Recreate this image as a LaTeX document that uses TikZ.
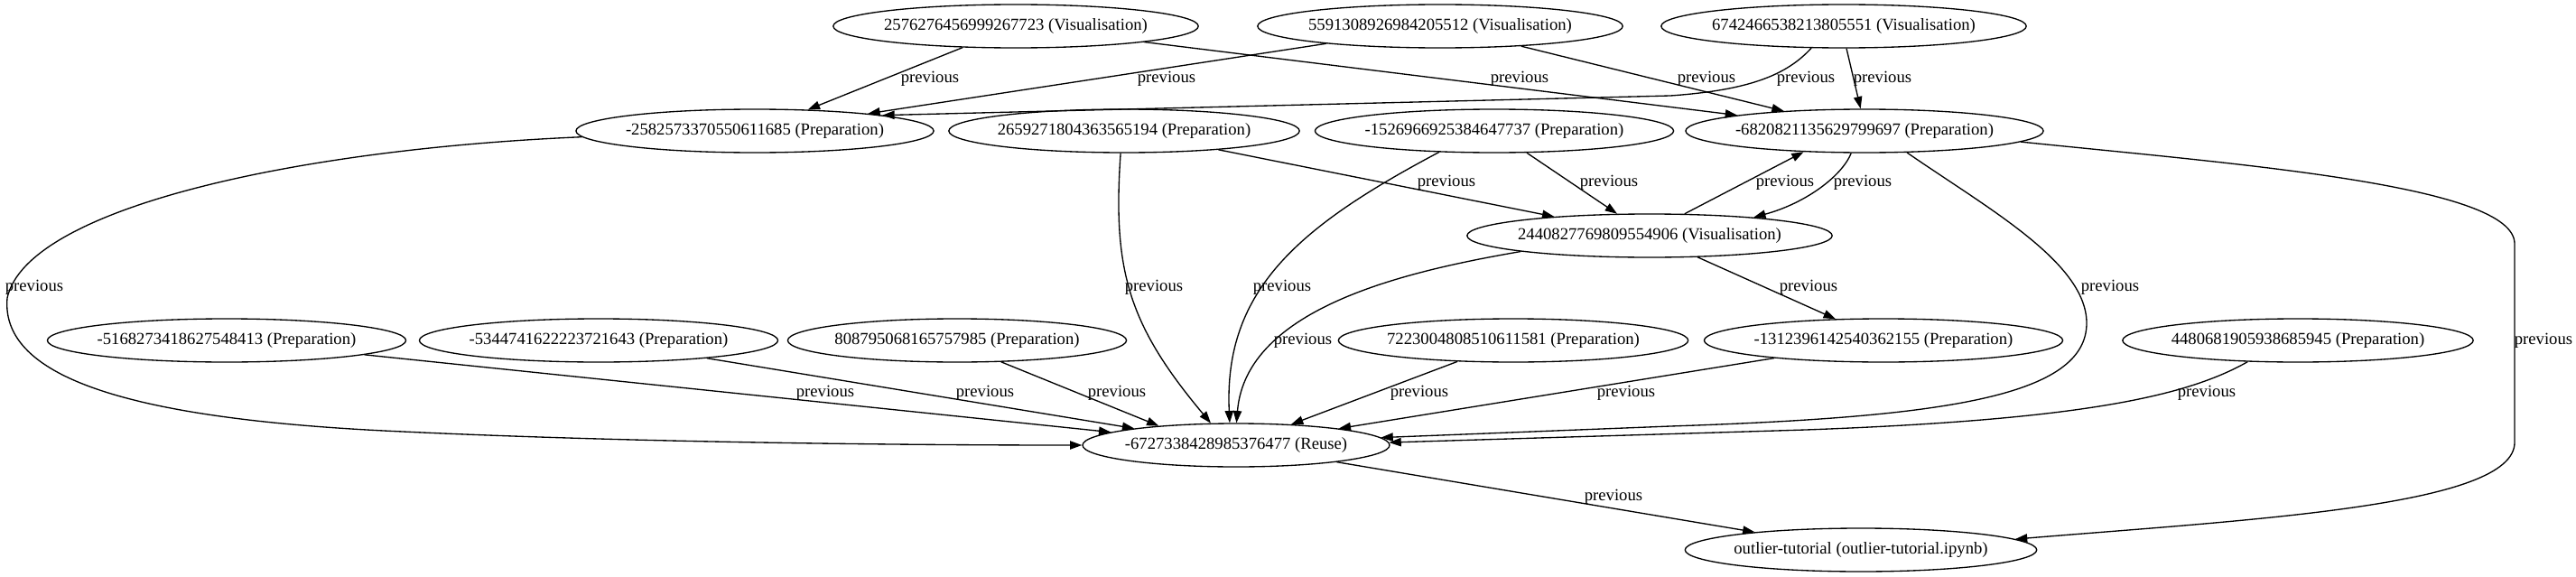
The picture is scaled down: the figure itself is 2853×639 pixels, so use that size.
\documentclass[tikz,border=0pt]{standalone}
\usepackage{fontspec}
\setmainfont{Liberation Serif}
\usetikzlibrary{arrows.meta,shapes.geometric}
\begin{document}
\begin{tikzpicture}[x=0.75pt,y=-0.75pt,
  gnode/.style={draw,ellipse,line width=1pt,inner xsep=-2.2pt,inner ysep=0pt,minimum height=36pt,font=\fontsize{14}{16}\selectfont},
  lbl/.style={inner sep=0pt,font=\fontsize{14}{16}\selectfont},
  edge/.style={draw,line width=1pt,-{Triangle[length=10pt,width=7pt]}}]
\useasboundingbox (0,0) rectangle (2853,639);
% nodes
\node[gnode] (V1) at (1125,29) {2576276456999267723 (Visualisation)};
\node[gnode] (V2) at (1595,29) {5591308926984205512 (Visualisation)};
\node[gnode] (V3) at (2042,29) {6742466538213805551 (Visualisation)};
\node[gnode] (P1) at (836,145) {-2582573370550611685 (Preparation)};
\node[gnode] (P2) at (1245,145) {2659271804363565194 (Preparation)};
\node[gnode] (P3) at (1655,145) {-1526966925384647737 (Preparation)};
\node[gnode] (P4) at (2065,145) {-6820821135629799697 (Preparation)};
\node[gnode] (V4) at (1827,261) {2440827769809554906 (Visualisation)};
\node[gnode] (Q1) at (251,377) {-5168273418627548413 (Preparation)};
\node[gnode] (Q2) at (663,377) {-5344741622223721643 (Preparation)};
\node[gnode] (Q3) at (1060,377) {808795068165757985 (Preparation)};
\node[gnode] (Q4) at (1676,377) {7223004808510611581 (Preparation)};
\node[gnode] (Q5) at (2086,377) {-1312396142540362155 (Preparation)};
\node[gnode] (Q6) at (2545,377) {4480681905938685945 (Preparation)};
\node[gnode] (R) at (1369,493) {-6727338428985376477 (Reuse)};
\node[gnode] (O) at (2061,609) {outlier-tutorial (outlier-tutorial.ipynb)};
% edges
\draw[edge] (V1) -- (P1);
\draw[edge] (V2) -- (P1);
\draw[edge] (V1) -- (P4);
\draw[edge] (V2) -- (P4);
\draw[edge] (V3.214) .. controls (1978,84) and (1935,100) .. (1850,106) -- (P1.7);
\draw[edge] (V3.-83) -- (P4.100);
\draw[edge] (P2) -- (V4);
\draw[edge] (P3) -- (V4);
\draw[edge] (V4.32) -- (P4.199);
\draw[edge] (P4.239) .. controls (2040,195) and (2000,225) .. (V4.10);
\draw[edge] (V4) -- (Q5);
\draw[edge] (P1.182) .. controls (330,165) and (30,230) .. (8,330) .. controls (0,420) and (150,465) .. (446,478) .. controls (700,490) and (1000,493) .. (R.180);
\draw[edge] (P2.261) .. controls (1232,300) and (1250,360) .. (R.139);
\draw[edge] (P3.201) .. controls (1440,250) and (1355,320) .. (R.106);
\draw[edge] (V4.187) .. controls (1560,300) and (1380,340) .. (R.89);
\draw[edge] (P4.-27) .. controls (2200,230) and (2310,290) .. (2311,357) .. controls (2312,440) and (2150,462) .. (1850,472) -- (R.3);
\draw[edge] (Q6.203) .. controls (2420,440) and (2300,465) .. (2000,476) -- (R.1);
\draw[edge] (Q1) -- (R);
\draw[edge] (Q2) -- (R);
\draw[edge] (Q3.-26) -- (R.166);
\draw[edge] (Q4) -- (R);
\draw[edge] (Q5) -- (R);
\draw[edge] (R) -- (O);
\draw[edge] (P4.-4) .. controls (2480,182) and (2785,205) .. (2785,270) -- (2785,490) .. controls (2785,560) and (2500,575) .. (O.4);
% labels
\node[lbl] (l1) at (1030,87) {previous};
\node[lbl] (l2) at (1292,87) {previous};
\node[lbl] (l3) at (1683,87) {previous};
\node[lbl] (l4) at (1890,87) {previous};
\node[lbl] (l5) at (2000,87) {previous};
\node[lbl] (l6) at (2085,87) {previous};
\node[lbl] (l7) at (1602,202) {previous};
\node[lbl] (l8) at (1782,202) {previous};
\node[lbl] (l9) at (1977,202) {previous};
\node[lbl] (l10) at (2063,202) {previous};
\node[lbl] (l11) at (2003,318) {previous};
\node[lbl] (l12) at (38,318) {previous};
\node[lbl] (l13) at (1278,318) {previous};
\node[lbl] (l14) at (1420,318) {previous};
\node[lbl] (l15) at (2337,318) {previous};
\node[lbl] (l16) at (1443,377) {previous};
\node[lbl] (l17) at (2817,377) {previous};
\node[lbl] (l18) at (914,435) {previous};
\node[lbl] (l19) at (1091,435) {previous};
\node[lbl] (l20) at (1237,435) {previous};
\node[lbl] (l21) at (1572,435) {previous};
\node[lbl] (l22) at (1801,435) {previous};
\node[lbl] (l23) at (2444,435) {previous};
\node[lbl] (l24) at (1787,550) {previous};
\end{tikzpicture}
\end{document}
